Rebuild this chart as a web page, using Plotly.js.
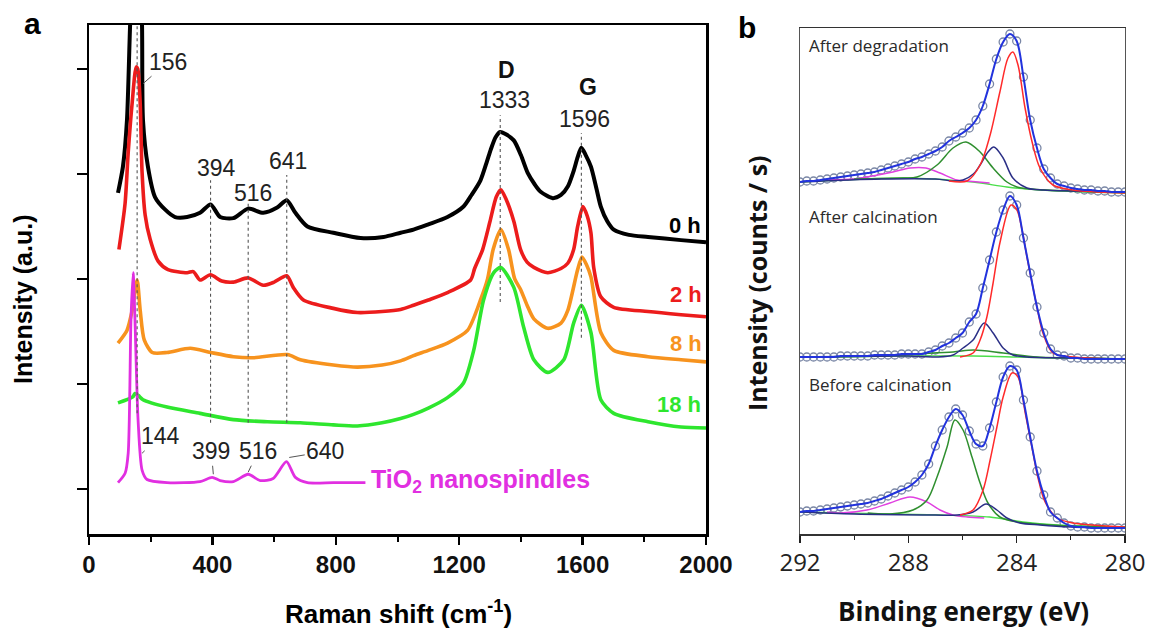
<!DOCTYPE html>
<html><head><meta charset="utf-8">
<script src="https://cdn.plot.ly/plotly-3.0.1.min.js"></script>
<style>html,body{margin:0;padding:0;background:#fff}#chart{width:1159px;height:629px}</style>
</head><body><div id="chart"></div>
<script>
// ---------- Panel a: Raman spectra (intensity in a.u., offset stacked) ----------
const shift0h = [94,110,123,133,145,156,166,172,175,191,214,247,279,318,360,394,425,468,516,565,610,641,669,708,792,880,955,1010,1052,1100,1162,1214,1240,1269,1290,1302,1318,1333,1350,1377,1400,1422,1445,1464,1503,1530,1552,1570,1584,1596,1610,1627,1645,1659,1680,1701,1750,1812,1919,2000];
const int0h   = [3.82,4.07,4.51,5.40,6.3,6.6,6.0,5.40,4.51,4.07,3.78,3.66,3.59,3.59,3.63,3.71,3.59,3.58,3.67,3.63,3.68,3.75,3.63,3.50,3.44,3.39,3.40,3.44,3.47,3.52,3.59,3.69,3.80,3.94,4.12,4.23,4.35,4.40,4.38,4.32,4.18,4.01,3.90,3.83,3.77,3.80,3.88,4.02,4.16,4.25,4.18,4.07,3.86,3.69,3.55,3.47,3.42,3.40,3.37,3.35];

const shift2h = [97,117,127,140,153,158,166,172,182,198,224,256,318,338,360,394,430,468,516,565,600,641,662,695,792,870,950,1010,1052,1100,1162,1237,1250,1276,1300,1320,1335,1352,1377,1399,1420,1442,1487,1530,1552,1571,1584,1601,1615,1627,1636,1659,1701,1812,1919,2000];
const int2h   = [3.28,3.72,4.20,4.68,5.02,5.00,4.67,4.02,3.61,3.38,3.17,3.09,3.06,3.07,2.99,3.04,2.98,2.97,3.01,2.94,2.97,3.03,2.92,2.80,2.72,2.68,2.69,2.71,2.75,2.80,2.87,2.99,3.10,3.28,3.55,3.78,3.85,3.76,3.55,3.28,3.16,3.11,3.06,3.10,3.15,3.28,3.50,3.69,3.60,3.44,3.11,2.83,2.73,2.69,2.66,2.64];

const shift8h = [94,123,140,156,166,179,205,253,328,394,468,532,643,685,792,870,950,1010,1052,1100,1162,1227,1269,1292,1310,1335,1360,1380,1399,1420,1442,1487,1530,1552,1584,1598,1612,1627,1659,1701,1812,1919,2000];
const int8h   = [2.39,2.51,2.70,2.99,2.70,2.42,2.30,2.30,2.34,2.30,2.26,2.25,2.28,2.23,2.18,2.16,2.18,2.22,2.27,2.32,2.39,2.51,2.80,3.00,3.28,3.47,3.28,3.00,2.90,2.75,2.62,2.53,2.58,2.70,3.09,3.21,3.14,3.02,2.49,2.32,2.26,2.23,2.21];

const shift18h = [94,143,149,160,175,253,360,468,578,685,792,870,950,1010,1052,1100,1162,1214,1247,1279,1312,1335,1377,1409,1442,1487,1539,1571,1596,1627,1659,1701,1812,1919,2000];
const int18h   = [1.82,1.88,1.91,1.89,1.85,1.78,1.72,1.66,1.64,1.63,1.61,1.60,1.63,1.67,1.71,1.77,1.87,2.01,2.32,2.80,3.06,3.11,2.92,2.54,2.23,2.11,2.23,2.58,2.75,2.49,1.85,1.72,1.64,1.59,1.58];

const shiftTiO2 = [94,117,127,136,143,149,159,172,188,253,360,399,425,468,516,555,597,640,669,708,792,896];
const intTiO2   = [1.06,1.15,1.34,2.61,3.06,2.61,1.66,1.18,1.09,1.06,1.07,1.11,1.08,1.07,1.14,1.08,1.10,1.26,1.11,1.06,1.06,1.06];

const ramanTicks = [0,400,800,1200,1600,2000];
const tio2Peaks = [156,394,516,641];
const carbonPeaks = [1333,1596];

// ---------- Panel b: XPS C 1s (counts/s, offset stacked) ----------
const beGrid = [292,291.75,291.5,291.25,291,290.75,290.5,290.25,290,289.75,289.5,289.25,289,288.75,288.5,288.25,288,287.75,287.5,287.25,287,286.75,286.5,286.25,286,285.75,285.5,285.25,285,284.75,284.5,284.25,284,283.75,283.5,283.25,283,282.75,282.5,282.25,282,281.75,281.5,281.25,281,280.75,280.5,280.25,280];
const degData = [3.52,3.53,3.53,3.54,3.55,3.56,3.57,3.58,3.59,3.60,3.61,3.62,3.64,3.66,3.68,3.70,3.72,3.75,3.77,3.80,3.83,3.87,3.93,3.97,4.01,4.06,4.14,4.28,4.50,4.75,4.92,5.00,4.93,4.57,4.14,3.86,3.65,3.56,3.50,3.48,3.46,3.45,3.44,3.44,3.43,3.43,3.42,3.42,3.42];
const calData = [1.77,1.77,1.77,1.77,1.77,1.77,1.78,1.78,1.78,1.78,1.78,1.79,1.79,1.79,1.79,1.80,1.80,1.80,1.80,1.82,1.84,1.88,1.91,1.96,2.01,2.12,2.20,2.46,2.74,3.02,3.24,3.38,3.29,2.96,2.61,2.27,2.01,1.85,1.79,1.78,1.76,1.76,1.75,1.75,1.75,1.75,1.75,1.75,1.75];
const preData = [0.22,0.23,0.23,0.24,0.25,0.26,0.27,0.28,0.29,0.30,0.31,0.33,0.35,0.38,0.41,0.44,0.47,0.52,0.59,0.70,0.88,1.04,1.17,1.25,1.19,1.03,0.90,0.88,1.06,1.32,1.57,1.68,1.64,1.34,0.97,0.63,0.39,0.22,0.16,0.11,0.08,0.07,0.07,0.06,0.06,0.06,0.06,0.06,0.06];

// After degradation components
const degRedX = [286.5,285.83,285.35,284.98,284.62,284.32,284.14,283.95,283.69,283.43,283.14,282.66,281.92,281,280];
const degRedY = [3.53,3.53,3.69,3.99,4.42,4.76,4.82,4.69,4.26,3.92,3.66,3.49,3.44,3.42,3.41];
const degNavyX = [292,289,287,286.3,285.98,285.6,285.35,285.06,284.84,284.5,284.14,283.62,283,282,280];
const degNavyY = [3.52,3.55,3.55,3.53,3.54,3.60,3.69,3.82,3.87,3.76,3.56,3.46,3.44,3.43,3.42];
const degGreenX = [290,288.2,287.68,286.94,286.35,285.87,285.35,284.87,284.36,283.99,283.5,282,280];
const degGreenY = [3.55,3.56,3.57,3.69,3.86,3.92,3.82,3.66,3.52,3.47,3.45,3.43,3.42];
const degMagX = [291,290,289.53,288.57,287.94,287.35,286.83,286.2,285.83,285];
const degMagY = [3.54,3.55,3.57,3.62,3.66,3.66,3.61,3.54,3.53,3.51];
const degBgX = [292,290.5,288.05,285.61,284.36,283.14,280];
const degBgY = [3.52,3.54,3.56,3.52,3.47,3.44,3.41];

// After calcination components
const calRedX = [286.09,285.61,285.35,285.10,284.87,284.62,284.21,283.99,283.80,283.62,283.43,283.25,283.03,282.66,281.92,280];
const calRedY = [1.77,1.81,1.94,2.17,2.51,2.91,3.29,3.24,3.04,2.77,2.51,2.27,2.01,1.81,1.77,1.75];
const calNavyX = [292,288,286.94,286.35,285.98,285.61,285.2,284.87,284.5,284.14,283.62,282,280];
const calNavyY = [1.77,1.78,1.77,1.79,1.86,1.94,2.11,2.01,1.86,1.79,1.77,1.76,1.75];
const calGreenX = [292,289,287.83,286.35,285.6,284.5,283.25,281.4,280];
const calGreenY = [1.77,1.78,1.80,1.82,1.84,1.81,1.77,1.76,1.75];
const calBgX = [292,288,285.6,284,282.5,280];
const calBgY = [1.77,1.78,1.78,1.77,1.76,1.75];

// Before calcination components
const preRedX = [286.09,285.61,285.24,284.98,284.73,284.5,284.17,283.95,283.69,283.43,283.21,282.95,282.51,281.92,280];
const preRedY = [0.19,0.24,0.44,0.74,1.07,1.37,1.61,1.57,1.22,0.86,0.56,0.32,0.16,0.11,0.07];
const preGreenX = [289.5,288.68,287.83,287.31,286.94,286.57,286.28,285.98,285.65,285.35,285.06,284.62,283.99,282,280];
const preGreenY = [0.21,0.20,0.24,0.34,0.57,0.87,1.14,1.04,0.77,0.51,0.31,0.17,0.12,0.08,0.07];
const preMagX = [291,290.52,289.53,288.68,287.94,287.31,286.83,286.35,285.83,285.2];
const preMagY = [0.22,0.21,0.24,0.31,0.37,0.32,0.24,0.19,0.17,0.16];
const preNavyX = [292,290,287,286.2,285.61,285.13,284.73,284.36,283.88,283.14,282,280];
const preNavyY = [0.22,0.20,0.19,0.19,0.22,0.30,0.24,0.16,0.11,0.09,0.07,0.06];
const preBgX = [292,290.52,286.83,285.0,283.77,282.51,280];
const preBgY = [0.22,0.21,0.19,0.17,0.12,0.09,0.07];

const beTicks = [292,288,284,280];

// ---------- build ----------
const W = 1159, H = 629;
const fx = p => p / W, fy = p => 1 - p / H;
const ARIAL = 'Arial, "Liberation Sans", sans-serif';
const OPEN = '"Open Sans", "DejaVu Sans", sans-serif';

const traces = [];
function ramanLine(x, y, color, width) {
  traces.push({x, y, xaxis: 'x', yaxis: 'y', type: 'scatter', mode: 'lines',
    line: {color, width, shape: 'spline', smoothing: 0.7}, hoverinfo: 'skip', showlegend: false});
}
ramanLine(shift0h, int0h, '#000000', 4.0);
ramanLine(shift2h, int2h, '#ec1c1c', 3.6);
ramanLine(shift8h, int8h, '#f7931e', 3.6);
ramanLine(shift18h, int18h, '#2ee62e', 3.6);
ramanLine(shiftTiO2, intTiO2, '#e12fe1', 2.8);

function xpsLine(x, y, color, width) {
  traces.push({x, y, xaxis: 'x2', yaxis: 'y2', type: 'scatter', mode: 'lines',
    line: {color, width, shape: 'spline', smoothing: 0.9}, hoverinfo: 'skip', showlegend: false});
}
function xpsPoints(y) {
  traces.push({x: beGrid, y, xaxis: 'x2', yaxis: 'y2', type: 'scatter', mode: 'markers',
    marker: {symbol: 'circle-open', size: 8, color: '#7a87a6', line: {width: 1.3, color: '#7a87a6'}},
    hoverinfo: 'skip', showlegend: false});
}
const sets = [
  [degData, degBgX, degBgY, degMagX, degMagY, degGreenX, degGreenY, degNavyX, degNavyY, degRedX, degRedY],
  [calData, calBgX, calBgY, null, null, calGreenX, calGreenY, calNavyX, calNavyY, calRedX, calRedY],
  [preData, preBgX, preBgY, preMagX, preMagY, preGreenX, preGreenY, preNavyX, preNavyY, preRedX, preRedY]
];
sets.forEach(s => {
  xpsPoints(s[0]);
  xpsLine(s[1], s[2], '#4ade4a', 1.4);
  if (s[3]) xpsLine(s[3], s[4], '#e040e0', 1.4);
  xpsLine(s[5], s[6], '#2f8f2f', 1.5);
  xpsLine(s[7], s[8], '#2b2f86', 1.5);
  xpsLine(s[9], s[10], '#ff2a2a', 1.5);
  xpsLine(beGrid, s[0], '#2233dd', 2.0);
});

// dotted guide lines
const shapes = [];
const tio2Spans = [[1.72, 5.42], [1.63, 3.94], [1.63, 3.75], [1.63, 3.99]];
tio2Peaks.forEach((p, i) => shapes.push({type: 'line', xref: 'x', yref: 'y', x0: p, x1: p,
  y0: tio2Spans[i][0], y1: tio2Spans[i][1], line: {color: '#555', width: 1.1, dash: 'dot'}, layer: 'above'}));
const carbonSpans = [[2.78, 4.56], [2.44, 4.39]];
carbonPeaks.forEach((p, i) => shapes.push({type: 'line', xref: 'x', yref: 'y', x0: p, x1: p,
  y0: carbonSpans[i][0], y1: carbonSpans[i][1], line: {color: '#555', width: 1.1, dash: 'dot'}, layer: 'above'}));

const ann = [];
function lab(text, x, y, opts) {
  ann.push(Object.assign({text, x, y, xref: 'x', yref: 'y', showarrow: false,
    xanchor: 'center', yanchor: 'middle',
    font: {family: ARIAL, size: 23, color: '#222'}}, opts || {}));
}
function leader(text, x, y, ax, ay) {
  ann.push({text, x, y, xref: 'x', yref: 'y', showarrow: true, ax, ay, arrowhead: 0,
    arrowwidth: 1, arrowcolor: '#555', font: {family: ARIAL, size: 23, color: '#222'}});
}
leader('156', 175, 4.86, 25, -22);
lab('394', 412, 4.06);
lab('516', 532, 3.82);
lab('641', 646, 4.12);
lab('<b>D</b>', 1354, 4.99, {font: {family: ARIAL, size: 23, color: '#111'}});
lab('1333', 1347, 4.70);
lab('<b>G</b>', 1617, 4.83, {font: {family: ARIAL, size: 23, color: '#111'}});
lab('1596', 1607, 4.52);
lab('<b>0 h</b>', 1932, 3.51, {font: {family: ARIAL, size: 22, color: '#000'}});
lab('<b>2 h</b>', 1935, 2.85, {font: {family: ARIAL, size: 22, color: '#ec1c1c'}});
lab('<b>8 h</b>', 1935, 2.39, {font: {family: ARIAL, size: 22, color: '#f7931e'}});
lab('<b>18 h</b>', 1912, 1.80, {font: {family: ARIAL, size: 22, color: '#2ee62e'}});
lab('<b>TiO<sub>2</sub> nanospindles</b>', 906, 1.08, {xanchor: 'left', font: {family: ARIAL, size: 25, color: '#e12fe1'}});
leader('144', 172, 1.34, 18, -17);
leader('399', 403, 1.14, -2, -23);
leader('516', 516, 1.16, 10, -21);
leader('640', 649, 1.30, 36, -6);

function paperText(text, xp, yp, font, extra) {
  ann.push(Object.assign({text, x: fx(xp), y: fy(yp), xref: 'paper', yref: 'paper', showarrow: false,
    xanchor: 'center', yanchor: 'middle', font}, extra || {}));
}
paperText('<b>a</b>', 32, 24, {family: ARIAL, size: 30, color: '#000'});
paperText('<b>b</b>', 747, 28, {family: ARIAL, size: 30, color: '#000'});
paperText('<b>Intensity (a.u.)</b>', 23, 300, {family: ARIAL, size: 25, color: '#000'}, {textangle: -90});
paperText('<b>Raman shift (cm<sup>-1</sup>)</b>', 398, 612, {family: ARIAL, size: 26, color: '#000'});
paperText('Intensity (counts / s)', 757, 283, {family: OPEN, size: 25, color: '#111', weight: 'bold'}, {textangle: -90});
paperText('Binding energy (eV)', 963, 611, {family: OPEN, size: 26, color: '#111', weight: 'bold'});
paperText('After degradation', 807, 45, {family: OPEN, size: 17, color: '#2a2a2a'}, {xanchor: 'left'});
paperText('After calcination', 807, 217, {family: OPEN, size: 17, color: '#2a2a2a'}, {xanchor: 'left'});
paperText('Before calcination', 807, 384, {family: OPEN, size: 17, color: '#2a2a2a'}, {xanchor: 'left'});

const layout = {
  width: W, height: H, margin: {l: 0, r: 0, t: 0, b: 0},
  paper_bgcolor: '#fff', plot_bgcolor: '#fff', showlegend: false,
  xaxis: {domain: [fx(89), fx(706)], range: [0, 2000], anchor: 'y',
    showline: true, linecolor: '#000', linewidth: 2.5, mirror: true,
    ticks: 'outside', ticklen: 8, tickwidth: 2.5, tickcolor: '#000',
    tickmode: 'array', tickvals: ramanTicks, ticktext: ramanTicks.map(String),
    minor: {dtick: 200, tick0: 0, ticks: 'outside', ticklen: 5, tickwidth: 2, tickcolor: '#000', showgrid: false},
    showgrid: false, zeroline: false,
    tickfont: {family: ARIAL, size: 24, color: '#111', weight: 'bold'}},
  yaxis: {domain: [fy(534), fy(25)], range: [0.571, 5.419], anchor: 'x',
    showline: true, linecolor: '#000', linewidth: 2.5, mirror: true,
    ticks: 'outside', ticklen: 10, tickwidth: 2.5, tickcolor: '#000',
    tickmode: 'array', tickvals: [1, 2, 3, 4, 5], showticklabels: false,
    showgrid: false, zeroline: false},
  xaxis2: {domain: [fx(800), fx(1125)], range: [292, 280], anchor: 'y2',
    showline: true, linecolor: '#333', linewidth: 1.5, mirror: true,
    ticks: 'outside', ticklen: 7, tickwidth: 1.5, tickcolor: '#222',
    tickmode: 'array', tickvals: beTicks, ticktext: beTicks.map(String),
    minor: {dtick: 2, tick0: 280, ticks: 'outside', ticklen: 4, tickwidth: 1.3, tickcolor: '#222', showgrid: false},
    showgrid: false, zeroline: false,
    tickfont: {family: OPEN, size: 24, color: '#222'}},
  yaxis2: {domain: [fy(534), fy(28)], range: [0, 5.06], anchor: 'x2',
    showline: true, linecolor: '#555', linewidth: 1.2, mirror: true,
    ticks: '', showticklabels: false, showgrid: false, zeroline: false},
  shapes, annotations: ann
};
Plotly.newPlot('chart', traces, layout, {staticPlot: true, displayModeBar: false});
</script></body></html>
